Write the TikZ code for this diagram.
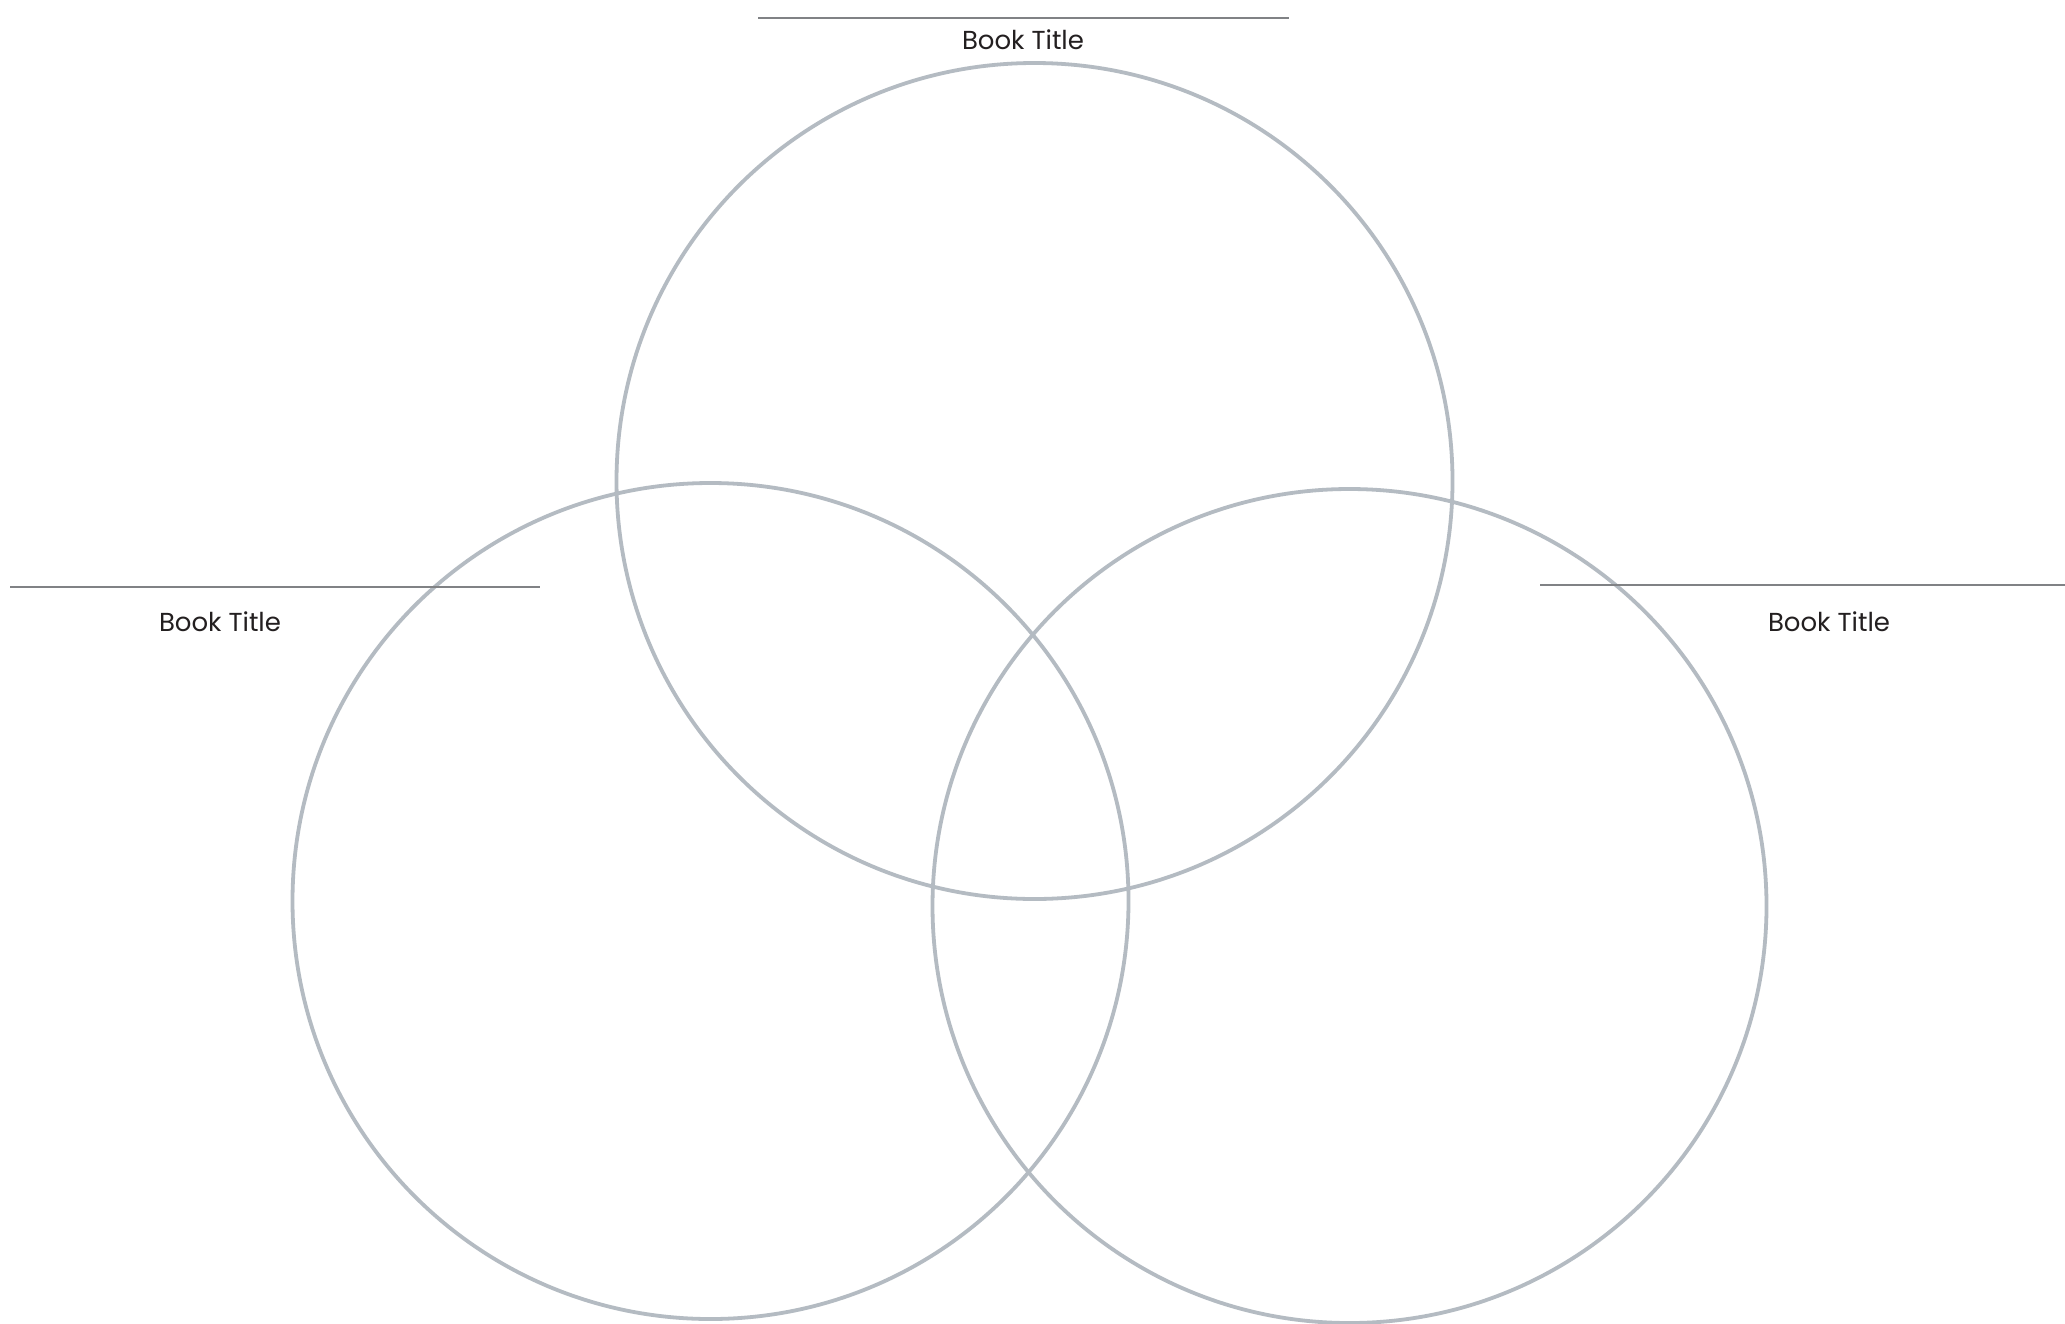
\documentclass[tikz,border=0pt]{standalone}
\usepackage{fontspec}
\setmainfont{Poppins}
\begin{document}
\begin{tikzpicture}[x=0.5pt,y=-0.5pt,
  ring/.style={draw=ringgrey,line width=1.9pt,circle,inner sep=0pt},
  rule/.style={draw=rulegrey,line width=1pt},
  title/.style={font=\fontsize{13}{15}\selectfont,text=textdark,inner sep=0pt,anchor=base}]
\definecolor{ringgrey}{HTML}{B4BBC2}
\definecolor{rulegrey}{HTML}{808285}
\definecolor{textdark}{HTML}{231F20}
\useasboundingbox[fill=white] (0,0) rectangle (2065,1323);
\node[ring,minimum size=418pt] (top) at (1034.5,481) {};
\node[ring,minimum size=418pt] (left) at (710.5,901) {};
\node[ring,minimum size=417pt] (right) at (1349.5,906) {};
\coordinate (t1) at (758,18);
\coordinate (t2) at (1289,18);
\coordinate (l1) at (10,587);
\coordinate (l2) at (540,587);
\coordinate (r1) at (1540,585);
\coordinate (r2) at (2065,585);
\draw[rule] (t1) -- (t2);
\draw[rule] (l1) -- (l2);
\draw[rule] (r1) -- (r2);
\node[title] (ttop) at (1023,49) {Book Title};
\node[title] (tleft) at (220,631) {Book Title};
\node[title] (tright) at (1829,631) {Book Title};
\end{tikzpicture}
\end{document}
